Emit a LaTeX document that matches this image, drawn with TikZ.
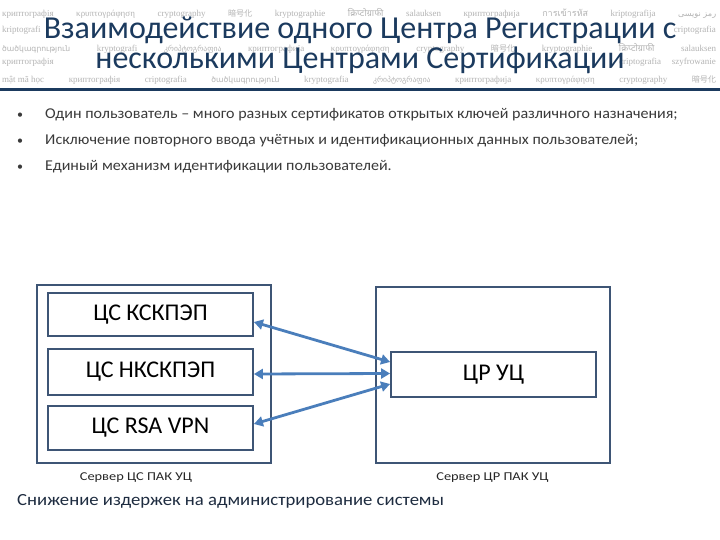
\documentclass[tikz,border=0pt]{standalone}
\usepackage{fontspec}
\setmainfont{Carlito}
\newfontfamily\widefont[FakeStretch=1.07]{Carlito}
\newfontfamily\labelfont[FakeStretch=1.2]{Carlito}
\newfontfamily\bottomfont[FakeStretch=1.1]{Carlito}
\newfontfamily\wmserif{Liberation Serif}
\newfontfamily\wmsans[Scale=0.85]{DejaVu Sans}
\newfontfamily\wmdeva[Script=Devanagari]{Noto Sans}
\newfontfamily\wmthai[Script=Thai]{Loma}
\newfontfamily\wmcjk[Scale=0.9]{Noto Sans CJK JP}
\newfontfamily\wmarab[Script=Arabic,Scale=0.9]{DejaVu Sans}
\TeXXeTstate=1
\usetikzlibrary{arrows.meta,calc}
\definecolor{titleblue}{HTML}{1B3A5E}
\definecolor{boxline}{HTML}{3E5575}
\definecolor{arrowblue}{HTML}{4A7EBB}
\definecolor{bodygray}{HTML}{3A3A3A}
\definecolor{wmgray}{HTML}{B4B4B4}
\definecolor{bottomnavy}{HTML}{1E2C40}
\tikzset{
  wm/.style={text=wmgray, inner sep=0pt, font=\wmserif\fontsize{9}{10}\selectfont},
  titleline/.style={text=titleblue, inner sep=0pt, font=\fontsize{32}{34}\selectfont},
  bullettext/.style={text=bodygray, anchor=base west, inner sep=0pt, font=\widefont\fontsize{15}{17}\selectfont},
  bulletdot/.style={text=bodygray, anchor=base, inner sep=0pt, font=\fontsize{12}{14}\selectfont},
  outerbox/.style={draw=boxline, line width=2.6pt, minimum width=234pt, inner sep=0pt},
  innerbox/.style={draw=boxline, line width=1.8pt, minimum width=205pt, inner sep=0pt, font=\fontsize{24}{26}\selectfont},
  arr/.style={draw=arrowblue, line width=2.8pt, {Triangle[length=9pt,width=10pt]}-{Triangle[length=9pt,width=10pt]}},
  srvlabel/.style={anchor=base, inner sep=0pt, text=black!85, font=\labelfont\fontsize{12}{14}\selectfont},
}
\begin{document}
\begin{tikzpicture}[x=1pt,y=-1pt]
\useasboundingbox (0,0) rectangle (720,540);
\fill[white] (0,0) rectangle (720,540);
% watermark rows
\node[wm,anchor=west] (wm1) at (2,13) {\hbox to 714pt{криптографія\hfill κρυπτογράφηση\hfill cryptography\hfill {\wmcjk 暗号化}\hfill kryptographie\hfill {\wmdeva क्रिप्टोग्राफी}\hfill salauksen\hfill криптографија\hfill {\wmthai การเข้ารหัส}\hfill kriptografija\hfill {\wmarab\beginR رمز نويسى\endR}}};
\node[wm,anchor=west] (wm2a) at (2,30) {kriptografi};
\node[wm,anchor=east] (wm2b) at (716,30) {criptografia};
\node[wm,anchor=west] (wm3) at (2,48) {\hbox to 714pt{{\wmsans ծածկագրություն}\hfill kryptografi\hfill {\wmsans კრიპტოგრაფია}\hfill криптографија\hfill κρυπτογράφηση\hfill cryptography\hfill {\wmcjk 暗号化}\hfill kryptographie\hfill {\wmdeva क्रिप्टोग्राफी}\hfill salauksen}};
\node[wm,anchor=west] (wm4a) at (2,62) {криптографія};
\node[wm,anchor=east] (wm4b) at (716,62) {criptografia\hspace{1.2em}szyfrowanie};
\node[wm,anchor=west] (wm5) at (2,80) {\hbox to 714pt{mật mã học\hfill криптографія\hfill criptografia\hfill {\wmsans ծածկագրություն}\hfill kryptografia\hfill {\wmsans კრიპტოგრაფია}\hfill криптографија\hfill κρυπτογράφηση\hfill cryptography\hfill {\wmcjk 暗号化}}};
% title
\node[titleline,anchor=base] (t1) at (360,39) {Взаимодействие одного Центра Регистрации с};
\node[titleline,anchor=base] (t2) at (360,69) {несколькими Центрами Сертификации};
\draw[titleblue, line width=3pt] (0,89.5) -- (720,89.5);
% bullets
\node[bulletdot] (d1) at (20,119) {•};
\node[bullettext] (b1) at (45,119) {Один пользователь – много разных сертификатов открытых ключей различного назначения;};
\node[bulletdot] (d2) at (20,145) {•};
\node[bullettext] (b2) at (45,145) {Исключение повторного ввода учётных и идентификационных данных пользователей;};
\node[bulletdot] (d3) at (20,171) {•};
\node[bullettext] (b3) at (45,171) {Единый механизм идентификации пользователей.};
% servers
\node[outerbox, minimum height=178pt] (ls) at (154,374) {};
\node[outerbox, minimum height=176pt] (rs) at (493,375) {};
\node[innerbox, minimum height=43pt] (ks) at (150.5,314.5) {ЦС КСКПЭП};
\node[innerbox, minimum height=46pt] (nk) at (150.5,372) {ЦС НКСКПЭП};
\node[innerbox, minimum height=44pt] (rsa) at (150.5,428) {ЦС RSA VPN};
\node[innerbox, minimum height=45pt] (ru) at (493.5,374.5) {ЦР УЦ};
% arrows
\draw[arr] ($(ru.west)+(0,-12.5)$) -- ($(ks.east)+(0,7.5)$);
\draw[arr] ($(ru.west)+(0,-1)$) -- ($(nk.east)+(0,2)$);
\draw[arr] ($(ru.west)+(0,9.5)$) -- ($(rsa.east)+(0,-4)$);
% labels
\node[srvlabel] (l1) at (136,480) {Сервер ЦС ПАК УЦ};
\node[srvlabel] (l2) at (492.5,480) {Сервер ЦР ПАК УЦ};
\node[anchor=base west, inner sep=0pt, text=bottomnavy, font=\bottomfont\fontsize{17}{19}\selectfont] (bottom) at (17,505) {Снижение издержек на администрирование системы};
\end{tikzpicture}
\end{document}
